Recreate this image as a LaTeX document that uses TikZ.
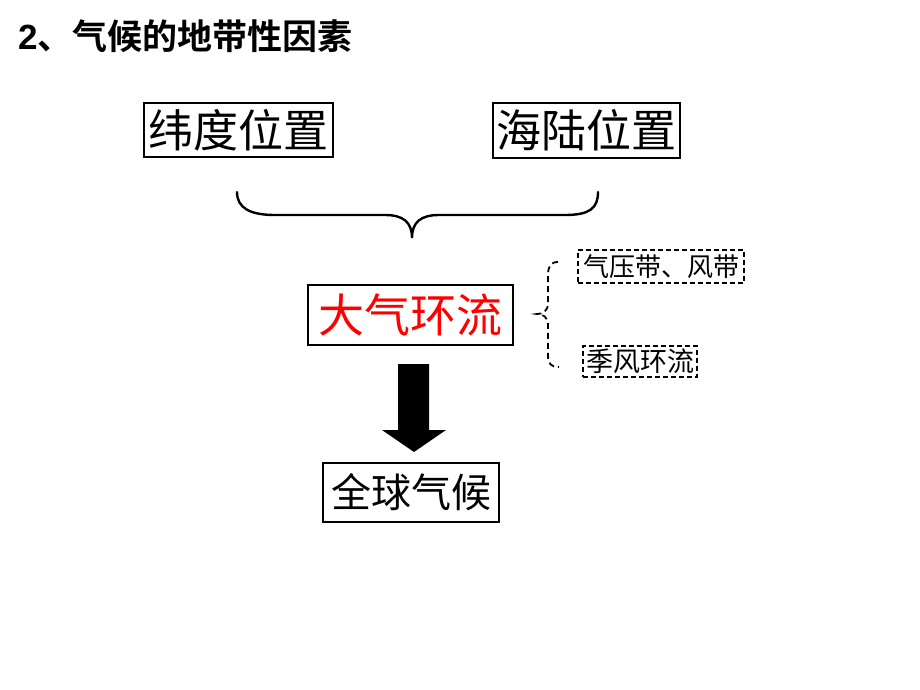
\documentclass[tikz,border=0pt]{standalone}
\usepackage{fontspec}
\setmainfont{Noto Sans CJK SC}
\newfontfamily\cjkb[BoldFont={Noto Sans CJK SC Bold}]{Noto Sans CJK SC}
\newfontfamily\titlefont{Liberation Sans}
\begin{document}
\begin{tikzpicture}[x=1pt,y=-1pt,
  solidbox/.style={draw=black,line width=2pt,inner sep=0pt,minimum width=#1},
  dashbox/.style={draw=black,dashed,line width=1.6pt,dash pattern=on 5pt off 3pt,inner sep=0pt},
  bracestyle/.style={line width=2.4pt,line cap=round},
  dbrace/.style={line width=1.8pt,dash pattern=on 6pt off 4pt}]
\useasboundingbox[fill=white] (0,0) rectangle (920,690);
% title
\node[anchor=west,inner sep=0pt] (title) at (18,36) {\fontsize{35}{38}\selectfont\bfseries\titlefont 2\cjkb、气候的地带性因素};
% top boxes
\node[solidbox=189pt,minimum height=54pt] (wd) at (238.5,130) {\fontsize{45}{48}\selectfont 纬度位置};
\node[solidbox=187pt,minimum height=55pt] (hl) at (586.5,130.5) {\fontsize{45}{48}\selectfont 海陆位置};
% brace
\coordinate (bl) at (237,192);
\coordinate (br) at (598,192);
\coordinate (bt) at (412,238);
\draw[bracestyle] (bl) .. controls (237,208) and (250,215) .. (275,215) -- (385,215)
  .. controls (403,215) and (412,222) .. (bt)
  .. controls (412,222) and (421,215) .. (439,215) -- (565,215)
  .. controls (590,215) and (598,208) .. (br);
% main node
\node[solidbox=205pt,minimum height=60pt] (dq) at (410.5,315) {\fontsize{46}{49}\selectfont\color{red}大气环流};
% dashed boxes
\node[dashbox,minimum width=166pt,minimum height=33pt] (qy) at (661,266.5) {\fontsize{26}{29}\selectfont 气压带、风带};
\node[dashbox,minimum width=114pt,minimum height=31pt] (jf) at (640,361.5) {\fontsize{27}{30}\selectfont 季风环流};
% dashed brace
\coordinate (dt) at (558,262);
\coordinate (db) at (559,367);
\coordinate (dm) at (537,314);
\draw[dbrace] (dt) .. controls (551,262) and (548,266) .. (548,275) -- (548,303)
  .. controls (548,311) and (543,314) .. (dm)
  .. controls (543,314) and (548,317) .. (548,325) -- (548,355)
  .. controls (548,364) and (551,367) .. (db);
% block arrow
\fill[black] (398,364) -- (429,364) -- (429,430) -- (446,430) -- (414,452) -- (382,430) -- (398,430) -- cycle;
% bottom box
\node[solidbox=176pt,minimum height=59pt] (qq) at (411,492.5) {\fontsize{40}{43}\selectfont 全球气候};
\end{tikzpicture}
\end{document}
